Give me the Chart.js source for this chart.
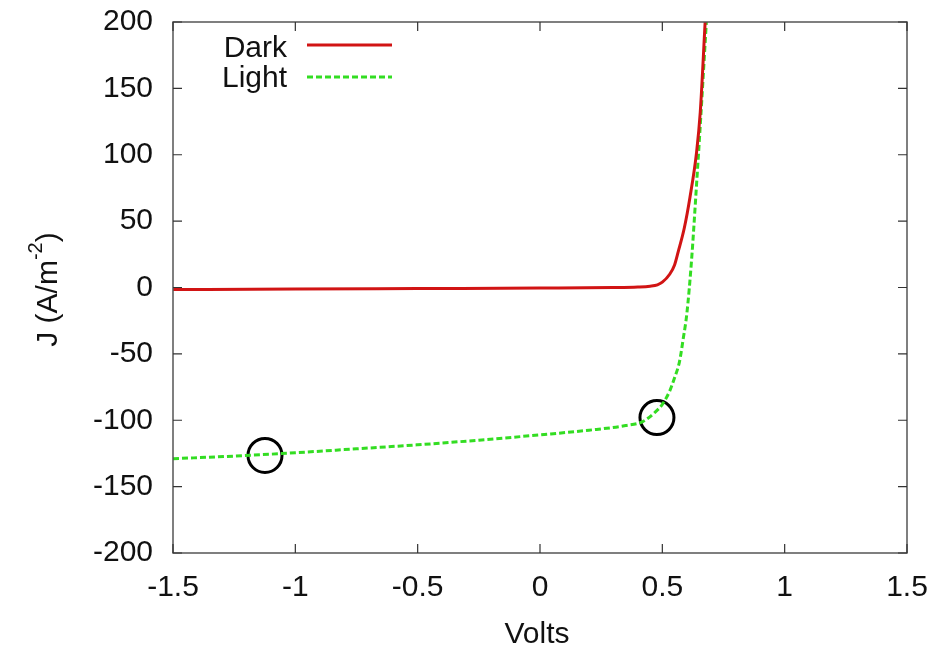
<!DOCTYPE html>
<html>
<head>
<meta charset="utf-8">
<script src="https://cdn.jsdelivr.net/npm/chart.js@4/dist/chart.umd.min.js"></script>
<style>
  html, body { margin: 0; padding: 0; background: #fff; }
  #wrap { width: 939px; height: 647px; }
</style>
</head>
<body>
<div id="wrap"><canvas id="c" width="939" height="647"></canvas></div>
<script>
// ---- data ----
const darkV = [-1.5, -1.0, -0.5, 0.0, 0.3, 0.4, 0.45, 0.48, 0.5, 0.53, 0.55, 0.565, 0.59, 0.613, 0.64, 0.655, 0.675];
const darkJ = [-1.5, -1.2, -0.8, -0.4, 0.0, 0.4, 1.0, 2, 4, 10, 17, 27, 45, 68, 102, 132, 200];
const lightV = [-1.5, -1.25, -1.0, -0.75, -0.5, -0.25, 0.0, 0.2, 0.35, 0.42, 0.47, 0.5, 0.53, 0.55, 0.57, 0.585, 0.6, 0.62, 0.64, 0.655, 0.68];
const lightJ = [-129, -127, -124.5, -121.5, -118.5, -115, -111, -107.5, -104, -101, -94, -88, -78, -68, -56, -39, -20, 22, 78, 122, 200];
const markerV = [-1.124, 0.478];
const markerJ = [-126.5, -98];
const xTickLabels = ['-1.5', '-1', '-0.5', '0', '0.5', '1', '1.5'];
const yTickLabels = ['-200', '-150', '-100', '-50', '0', '50', '100', '150', '200'];
const seriesNames = ['Dark', 'Light'];
const xTitle = 'Volts';
const yTitleMain = 'J (A/m';
const yTitleSup = '-2';

const FONT = '"Liberation Sans", Arial, Helvetica, sans-serif';
const RED = '#d11414';
const GREEN = '#33dd22';

const toPts = (xs, ys) => xs.map((x, i) => ({ x: x, y: ys[i] }));
const xTickVals = xTickLabels.map(Number);
const yTickVals = yTickLabels.map(Number);

const gnuplotPlugin = {
  id: 'gnuplotFrame',
  afterDatasetsDraw(chart) {
    const { ctx, chartArea: a, scales } = chart;
    const xs = scales.x, ys = scales.y;
    ctx.save();
    // frame
    ctx.strokeStyle = '#555';
    ctx.lineWidth = 1.5;
    ctx.strokeRect(a.left, a.top, a.right - a.left, a.bottom - a.top);
    // inward ticks, mirrored
    const T = 9;
    ctx.strokeStyle = '#333';
    ctx.lineWidth = 1.2;
    ctx.beginPath();
    xTickVals.forEach(v => {
      const px = xs.getPixelForValue(v);
      ctx.moveTo(px, a.bottom); ctx.lineTo(px, a.bottom - T);
      ctx.moveTo(px, a.top); ctx.lineTo(px, a.top + T);
    });
    yTickVals.forEach(v => {
      const py = ys.getPixelForValue(v);
      ctx.moveTo(a.left, py); ctx.lineTo(a.left + T, py);
      ctx.moveTo(a.right, py); ctx.lineTo(a.right - T, py);
    });
    ctx.stroke();

    // legend (gnuplot style: right-aligned label, then sample)
    ctx.font = '30px ' + FONT;
    ctx.fillStyle = '#111';
    ctx.textAlign = 'right';
    ctx.textBaseline = 'alphabetic';
    const legX = a.left + 114, lineX0 = a.left + 134, lineX1 = a.left + 219;
    const rows = [
      { name: seriesNames[0], y: a.top + 23, base: a.top + 35, color: RED, dash: [] },
      { name: seriesNames[1], y: a.top + 55, base: a.top + 65, color: GREEN, dash: [6, 3] }
    ];
    rows.forEach(r => {
      ctx.fillText(r.name, legX, r.base);
      ctx.strokeStyle = r.color;
      ctx.lineWidth = 3;
      ctx.setLineDash(r.dash);
      ctx.beginPath();
      ctx.moveTo(lineX0, r.y); ctx.lineTo(lineX1, r.y);
      ctx.stroke();
    });
    ctx.setLineDash([]);

    // x title
    ctx.textAlign = 'center';
    ctx.textBaseline = 'alphabetic';
    ctx.fillStyle = '#111';
    ctx.font = '30px ' + FONT;
    ctx.fillText(xTitle, (a.left + a.right) / 2 - 3, 643);

    // y title with superscript
    ctx.translate(46, (a.top + a.bottom) / 2 + 2);
    ctx.rotate(-Math.PI / 2);
    ctx.font = '30px ' + FONT;
    const w1 = ctx.measureText(yTitleMain).width;
    ctx.font = '20px ' + FONT;
    const w2 = ctx.measureText(yTitleSup).width;
    ctx.font = '30px ' + FONT;
    const w3 = ctx.measureText(')').width;
    let x0 = -(w1 + w2 + w3) / 2;
    ctx.textAlign = 'left';
    ctx.textBaseline = 'alphabetic';
    ctx.fillText(yTitleMain, x0, 11);
    ctx.font = '20px ' + FONT;
    ctx.fillText(yTitleSup, x0 + w1, -4);
    ctx.font = '30px ' + FONT;
    ctx.fillText(')', x0 + w1 + w2, 11);
    ctx.restore();
  }
};

new Chart(document.getElementById('c'), {
  type: 'line',
  data: {
    datasets: [
      {
        label: seriesNames[0],
        data: toPts(darkV, darkJ),
        borderColor: RED,
        borderWidth: 3,
        pointRadius: 0,
        cubicInterpolationMode: 'monotone',
        fill: false
      },
      {
        label: seriesNames[1],
        data: toPts(lightV, lightJ),
        borderColor: GREEN,
        borderWidth: 3,
        borderDash: [6, 3],
        pointRadius: 0,
        cubicInterpolationMode: 'monotone',
        fill: false
      },
      {
        label: 'markers',
        type: 'scatter',
        data: toPts(markerV, markerJ),
        pointStyle: 'circle',
        pointRadius: 17,
        pointBorderWidth: 3,
        pointBorderColor: '#000',
        pointBackgroundColor: 'rgba(0,0,0,0)',
        showLine: false
      }
    ]
  },
  options: {
    responsive: false,
    animation: false,
    devicePixelRatio: 1,
    layout: { padding: { left: 0, right: 32, top: 22, bottom: 0 } },
    plugins: { legend: { display: false }, tooltip: { enabled: false } },
    scales: {
      x: {
        type: 'linear',
        min: -1.5, max: 1.5,
        afterBuildTicks: s => { s.ticks = xTickVals.map(v => ({ value: v })); },
        afterFit: s => { s.height = 94; s.paddingLeft = 0; s.paddingRight = 0; },
        grid: { display: false, drawTicks: false },
        border: { display: false },
        ticks: {
          padding: 17,
          color: '#111',
          font: { family: FONT, size: 30 },
          callback: (v) => xTickLabels[xTickVals.indexOf(v)]
        }
      },
      y: {
        type: 'linear',
        min: -200, max: 200,
        afterBuildTicks: s => { s.ticks = yTickVals.map(v => ({ value: v })); },
        afterFit: s => { s.width = 173; s.paddingTop = 0; s.paddingBottom = 0; },
        grid: { display: false, drawTicks: false },
        border: { display: false },
        ticks: {
          padding: 20,
          color: '#111',
          font: { family: FONT, size: 30 },
          callback: (v) => yTickLabels[yTickVals.indexOf(v)]
        }
      }
    }
  },
  plugins: [gnuplotPlugin]
});
</script>
</body>
</html>
